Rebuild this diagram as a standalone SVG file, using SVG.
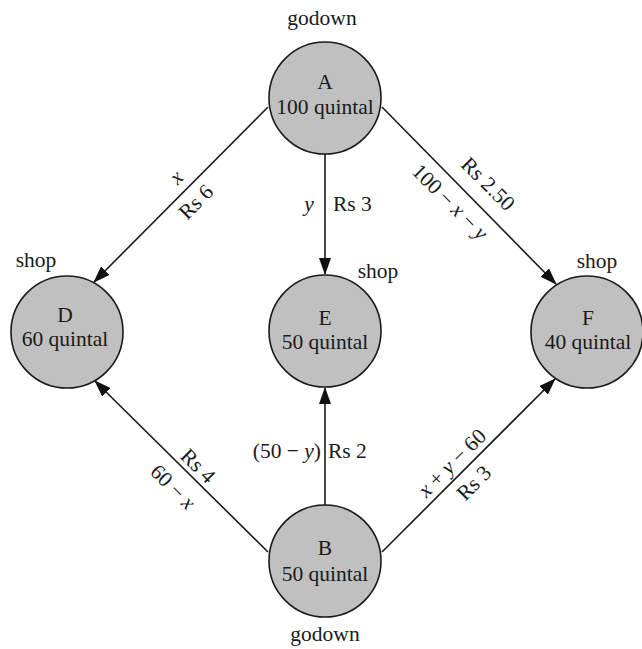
<svg xmlns="http://www.w3.org/2000/svg" width="642" height="649" viewBox="0 0 642 649">
<style>
text{font-family:"Liberation Serif","Times New Roman",serif;font-size:21.5px;fill:#1a1a1a;text-anchor:middle}
.node circle{fill:#c0c0c0;stroke:#1a1a1a;stroke-width:1.6}
.edge{stroke:#1a1a1a;stroke-width:1.6;fill:none;marker-end:url(#ah)}
.i{font-style:italic}
.s{text-anchor:start}
.e{text-anchor:end}
</style>
<defs>
<marker id="ah" viewBox="0 0 17 12" refX="16" refY="6" markerWidth="17" markerHeight="12" markerUnits="userSpaceOnUse" orient="auto">
<path d="M0,0 L17,6 L0,12 Z" fill="#111"/>
</marker>
</defs>
<rect width="642" height="649" fill="#fff"/>
<g id="connectors">
<line class="edge" x1="268" y1="107" x2="94" y2="282"/>
<line class="edge" x1="325" y1="154" x2="325" y2="274"/>
<line class="edge" x1="382" y1="107" x2="556" y2="284"/>
<line class="edge" x1="268" y1="552" x2="95" y2="381"/>
<line class="edge" x1="325" y1="505" x2="325" y2="388"/>
<line class="edge" x1="382" y1="552" x2="555" y2="379"/>
<text class="i" transform="translate(177,178) rotate(-45)" y="6">x</text>
<text transform="translate(196,202) rotate(-45)" y="7">Rs 6</text>
<text transform="translate(488,184) rotate(45)" y="7">Rs 2.50</text>
<text transform="translate(450,202) rotate(45)" y="7">100 − <tspan class="i">x</tspan> − <tspan class="i">y</tspan></text>
<text class="i" x="309" y="211">y</text>
<text class="s" x="333" y="211">Rs 3</text>
<text transform="translate(198,466) rotate(45)" y="7">Rs 4</text>
<text transform="translate(173,487) rotate(45)" y="7">60 − <tspan class="i">x</tspan></text>
<text class="e" x="321" y="458">(50 − <tspan class="i">y</tspan>)</text>
<text class="s" x="328" y="458">Rs 2</text>
<text transform="translate(452,463) rotate(-45)" y="7"><tspan class="i">x</tspan> + <tspan class="i">y</tspan> − 60</text>
<text transform="translate(474,483) rotate(-45)" y="7">Rs 3</text>
</g>
<g id="A" class="node"><circle cx="325" cy="98" r="56"/><text x="325" y="89">A</text><text x="325" y="114">100 quintal</text><text x="322" y="25">godown</text></g>
<g id="D" class="node"><circle cx="67" cy="332" r="56"/><text x="65" y="322">D</text><text x="65" y="346">60 quintal</text><text x="36" y="267">shop</text></g>
<g id="E" class="node"><circle cx="325" cy="331" r="56"/><text x="325" y="325">E</text><text x="325" y="349">50 quintal</text><text x="378" y="278">shop</text></g>
<g id="F" class="node"><circle cx="587" cy="332" r="56"/><text x="588" y="325">F</text><text x="588" y="349">40 quintal</text><text x="597" y="268">shop</text></g>
<g id="B" class="node"><circle cx="325" cy="561" r="56"/><text x="325" y="555">B</text><text x="325" y="581">50 quintal</text><text x="325" y="641">godown</text></g>
</svg>
